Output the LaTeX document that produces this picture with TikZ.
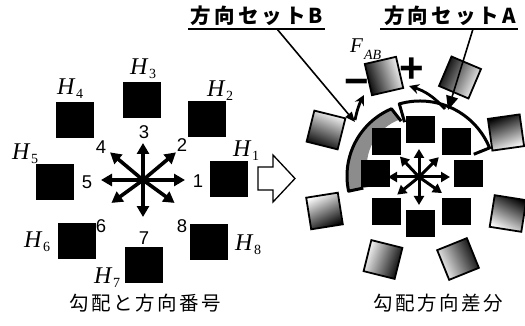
\documentclass[tikz,border=0pt]{standalone}
\usepackage{fontspec}
\setmainfont{Liberation Serif}
\newfontfamily\cjkcap{Noto Sans CJK JP}[LetterSpace=13]
\newfontfamily\cjklab{Noto Sans CJK JP}[LetterSpace=15]
\newfontfamily\arialf{Liberation Sans}
\usetikzlibrary{arrows.meta,calc}
\newcommand\hlabel[1]{H\kern1.5pt\raisebox{-4pt}{\upshape\fontsize{14}{14}\selectfont #1}}
\begin{document}
\begin{tikzpicture}[x=1pt,y=1pt,
  lsq/.style={fill=black, minimum width=38pt, minimum height=36pt, inner sep=0pt},
  rsq/.style={fill=black, minimum width=29pt, minimum height=27pt, inner sep=0pt},
  osq/.style={draw=black, line width=1.8pt, minimum size=32pt, inner sep=0pt,
    shading=axis, top color=black, bottom color=white, middle color=black!50},
  starar/.style={line width=3.6pt, -{Triangle[length=11pt,width=12pt]}},
  sstar/.style={line width=3pt, -{Triangle[length=9pt,width=10pt]}},
  hlab/.style={anchor=base west, inner sep=0pt, font=\fontsize{24}{24}\selectfont\itshape},
  num/.style={inner sep=0pt, font=\arialf\fontsize{18.5}{18.5}\selectfont},
  toplab/.style={inner sep=0pt, font=\cjklab\bfseries\fontsize{20.5}{20.5}\selectfont},
  caplab/.style={inner sep=0pt, font=\cjkcap\fontsize{19.5}{19.5}\selectfont},
  leader/.style={line width=1.6pt},
  ulinestyle/.style={line width=1.4pt},
  region/.style={line width=3pt, line join=round},
  pm/.style={inner sep=0pt, font=\arialf\bfseries\fontsize{42}{42}\selectfont},
  rotar/.style={line width=2.8pt, -{Stealth[length=10pt,width=10pt]}}
]
\useasboundingbox (0,0) rectangle (525,-326);

% ---------------- left panel ----------------
\node[lsq] (h1) at (229,-179) {};
\node[lsq] (h2) at (207,-119) {};
\node[lsq] (h3) at (142,-100) {};
\node[lsq] (h4) at (75,-120) {};
\node[lsq] (h5) at (55,-182) {};
\node[lsq] (h6) at (77,-241) {};
\node[lsq] (h7) at (144,-265) {};
\node[lsq] (h8) at (209,-242) {};

\node[hlab] (lh1) at (233,-157) {\hlabel{1}};
\node[hlab] (lh2) at (207,-97) {\hlabel{2}};
\node[hlab] (lh3) at (130,-75) {\hlabel{3}};
\node[hlab] (lh4) at (57,-95) {\hlabel{4}};
\node[hlab] (lh5) at (12,-160) {\hlabel{5}};
\node[hlab] (lh6) at (24,-247) {\hlabel{6}};
\node[hlab] (lh7) at (94,-283) {\hlabel{7}};
\node[hlab] (lh8) at (235,-250) {\hlabel{8}};

\coordinate (lc) at (143,-180);
\foreach \a/\l in {0/42,180/42,90/37,270/37,40/43,140/43,216/39,324/39}
  \draw[starar] (lc) -- ++(\a:\l);

\node[num] (n1) at (198,-181) {1};
\node[num] (n2) at (182,-145) {2};
\node[num] (n3) at (144,-132) {3};
\node[num] (n4) at (101,-147) {4};
\node[num] (n5) at (87,-182) {5};
\node[num] (n6) at (101,-226) {6};
\node[num] (n7) at (144,-238) {7};
\node[num] (n8) at (182,-226) {8};

\node[caplab] (capL) at (145,-303) {勾配と方向番号};

% hollow arrow
\draw[line width=1.3pt, fill=white] (258,-167) -- (273,-167) -- (273,-155) -- (295,-178.5)
  -- (273,-202) -- (273,-190) -- (258,-190) -- cycle;

% ---------------- right panel ----------------
\coordinate (ci) at (420,-176);
% set B (gray)
\fill[black!45] ($(ci)+(192:50)$) -- ($(ci)+(192:73)$)
  arc[start angle=192, end angle=113, radius=73] -- ($(ci)+(109:60)$)
  arc[start angle=109, end angle=192, radius=50] -- cycle;
\draw[region] ($(ci)+(192:58)$) -- ($(ci)+(192:73)$)
  arc[start angle=192, end angle=113, radius=73] -- ($(ci)+(109:58)$);
% set A (white)
\fill[white] ($(ci)+(106:50)$) -- ($(ci)+(106:75)$)
  arc[start angle=106, end angle=22, radius=75] -- ($(ci)+(22:50)$)
  arc[start angle=22, end angle=106, radius=50] -- cycle;
\draw[region] ($(ci)+(106:56)$) -- ($(ci)+(106:75)$)
  arc[start angle=106, end angle=22, radius=75] -- ($(ci)+(22:58)$);

\node[rsq] (r3) at (420,-130) {};
\node[rsq] (r2) at (456,-141.5) {};
\node[rsq] (r1) at (468,-173.5) {};
\node[rsq] (r8) at (456,-211) {};
\node[rsq] (r7) at (420,-223.5) {};
\node[rsq] (r6) at (386,-211) {};
\node[rsq] (r5) at (375,-173.5) {};
\node[rsq] (r4) at (386,-141.5) {};

\coordinate (rc) at (419,-177);
\foreach \a/\l in {0/31,180/31,90/28,270/28,45/28,133/28,219/28,325/28}
  \draw[sstar] (rc) -- ++(\a:\l);

% outer gradient squares
\node[osq, rotate=13, shading angle=109] (o1) at (384,-76) {};
\node[osq, rotate=-23, shading angle=64] (o2) at (460,-77.5) {};
\node[osq, rotate=8, shading angle=21] (o3) at (506,-132.5) {};
\node[osq, rotate=-9, shading angle=-27] (o4) at (508,-213.5) {};
\node[osq, rotate=22, shading angle=-65] (o5) at (458,-259) {};
\node[osq, rotate=-14, shading angle=-110] (o6) at (383,-259.5) {};
\node[osq, rotate=9, shading angle=-154] (o7) at (324.5,-211) {};
\node[osq, rotate=-14, shading angle=158] (o8) at (326,-130) {};

\node[anchor=base west, inner sep=0pt] (fab) at (350,-53)
  {\fontsize{21}{21}\selectfont\itshape F\kern1pt\raisebox{-7pt}{\fontsize{14}{14}\selectfont AB}};
\node[pm] (plus) at (412,-70) {+};
\node[pm] (minus) at (357,-87) {−};

% rotation arrows
\coordinate (pa) at (445,-109);
\coordinate (pb) at (409,-86);
\draw[rotar] (pa) to[bend right=15] (pb);
\coordinate (ma) at (355,-120);
\coordinate (mb) at (364,-95);
\draw[rotar] (ma) to[bend left=8] (mb);

% labels and leaders
\node[toplab] (lblB) at (257,-16) {方向セットB};
\node[toplab] (lblA) at (450,-16) {方向セットA};
\coordinate (ubl) at (188,-29);
\coordinate (ubr) at (325,-29);
\coordinate (ual) at (380,-29);
\coordinate (uar) at (518,-29);
\draw[ulinestyle] (ubl) -- (ubr);
\draw[ulinestyle] (ual) -- (uar);
\coordinate (lbs) at (277,-29);
\coordinate (lbe) at (355,-122);
\coordinate (las) at (473,-29);
\coordinate (lae) at (448,-110);
\draw[leader, -{Triangle[length=10pt,width=8pt]}] (lbs) -- (lbe);
\draw[leader, -{Triangle[length=14pt,width=12pt]}] (las) -- (lae);

\node[caplab] (capR) at (438,-303) {勾配方向差分};
\end{tikzpicture}
\end{document}
